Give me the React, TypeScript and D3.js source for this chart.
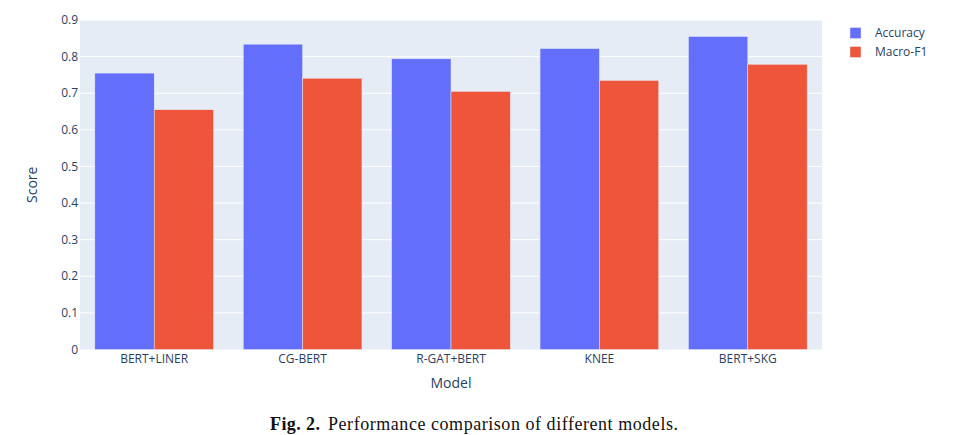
import React from "react";
import * as d3 from "d3";

const models = ["BERT+LINER", "CG-BERT", "R-GAT+BERT", "KNEE", "BERT+SKG"];
const accuracy = [0.755, 0.834, 0.794, 0.822, 0.855];
const macroF1 = [0.655, 0.741, 0.705, 0.735, 0.779];
const seriesNames = ["Accuracy", "Macro-F1"];
const seriesColors = ["#636efa", "#EF553B"];
const yTicks = [0, 0.1, 0.2, 0.3, 0.4, 0.5, 0.6, 0.7, 0.8, 0.9];

export default function App() {
  const W = 964, H = 435;
  const left = 80, right = 822, top = 20, bottom = 349.5;
  const x = d3.scaleBand().domain(models).range([left, right]).paddingInner(0.2).paddingOuter(0.1);
  const x1 = d3.scaleBand().domain(seriesNames).range([0, x.bandwidth()]);
  const y = d3.scaleLinear().domain([0, 0.9]).range([bottom, top]);
  const series = [accuracy, macroF1];
  const font = "'Open Sans', sans-serif";
  return (
    <svg width={W} height={H} style={{ position: "absolute", left: 0, top: 0, background: "#fff" }}>
      <rect x={left} y={top} width={right - left} height={bottom - top} fill="#E5ECF6" />
      {yTicks.map((t) => (
        <g key={t}>
          {t > 0 && <line x1={left} x2={right} y1={y(t)} y2={y(t)} stroke="#fff" strokeWidth={1} />}
          <text x={left - 2} y={y(t)} dy="0.35em" textAnchor="end" fontSize={12} fill="#2a3f5f" fontFamily={font}>
            {t === 0 ? "0" : t.toFixed(1)}
          </text>
        </g>
      ))}
      {series.map((vals, si) =>
        models.map((m, i) => (
          <rect
            key={m + si}
            x={(x(m) as number) + (x1(seriesNames[si]) as number)}
            y={y(vals[i])}
            width={x1.bandwidth()}
            height={y(0) - y(vals[i])}
            fill={seriesColors[si]}
            stroke="#E5ECF6"
            strokeWidth={0.5}
          />
        ))
      )}
      {models.map((m) => (
        <text key={m} x={(x(m) as number) + x.bandwidth() / 2} y={bottom + 9} dy="0.35em" textAnchor="middle" fontSize={12} fill="#2a3f5f" fontFamily={font}>
          {m}
        </text>
      ))}
      <text x={(left + right) / 2} y={383} dy="0.35em" textAnchor="middle" fontSize={14} fill="#2a3f5f" fontFamily={font}>Model</text>
      <text transform={`translate(32,${(top + bottom) / 2}) rotate(-90)`} dy="0.35em" textAnchor="middle" fontSize={14} fill="#2a3f5f" fontFamily={font}>Score</text>
      {seriesNames.map((s, i) => (
        <g key={s} transform={`translate(850,${33 + i * 19})`}>
          <rect x={0} y={-5.5} width={11} height={11} fill={seriesColors[i]} stroke="#E5ECF6" strokeWidth={0.5} />
          <text x={25} y={0} dy="0.35em" fontSize={12} fill="#2a3f5f" fontFamily={font}>{s}</text>
        </g>
      ))}
      <text x={270} y={430} fontSize={18} fontWeight="bold" fill="#111" fontFamily="'Liberation Serif', serif" textLength={50} lengthAdjust="spacing">Fig. 2.</text>
      <text x={328} y={430} fontSize={18} fill="#111" fontFamily="'Liberation Serif', serif" textLength={350} lengthAdjust="spacing">Performance comparison of different models.</text>
    </svg>
  );
}
